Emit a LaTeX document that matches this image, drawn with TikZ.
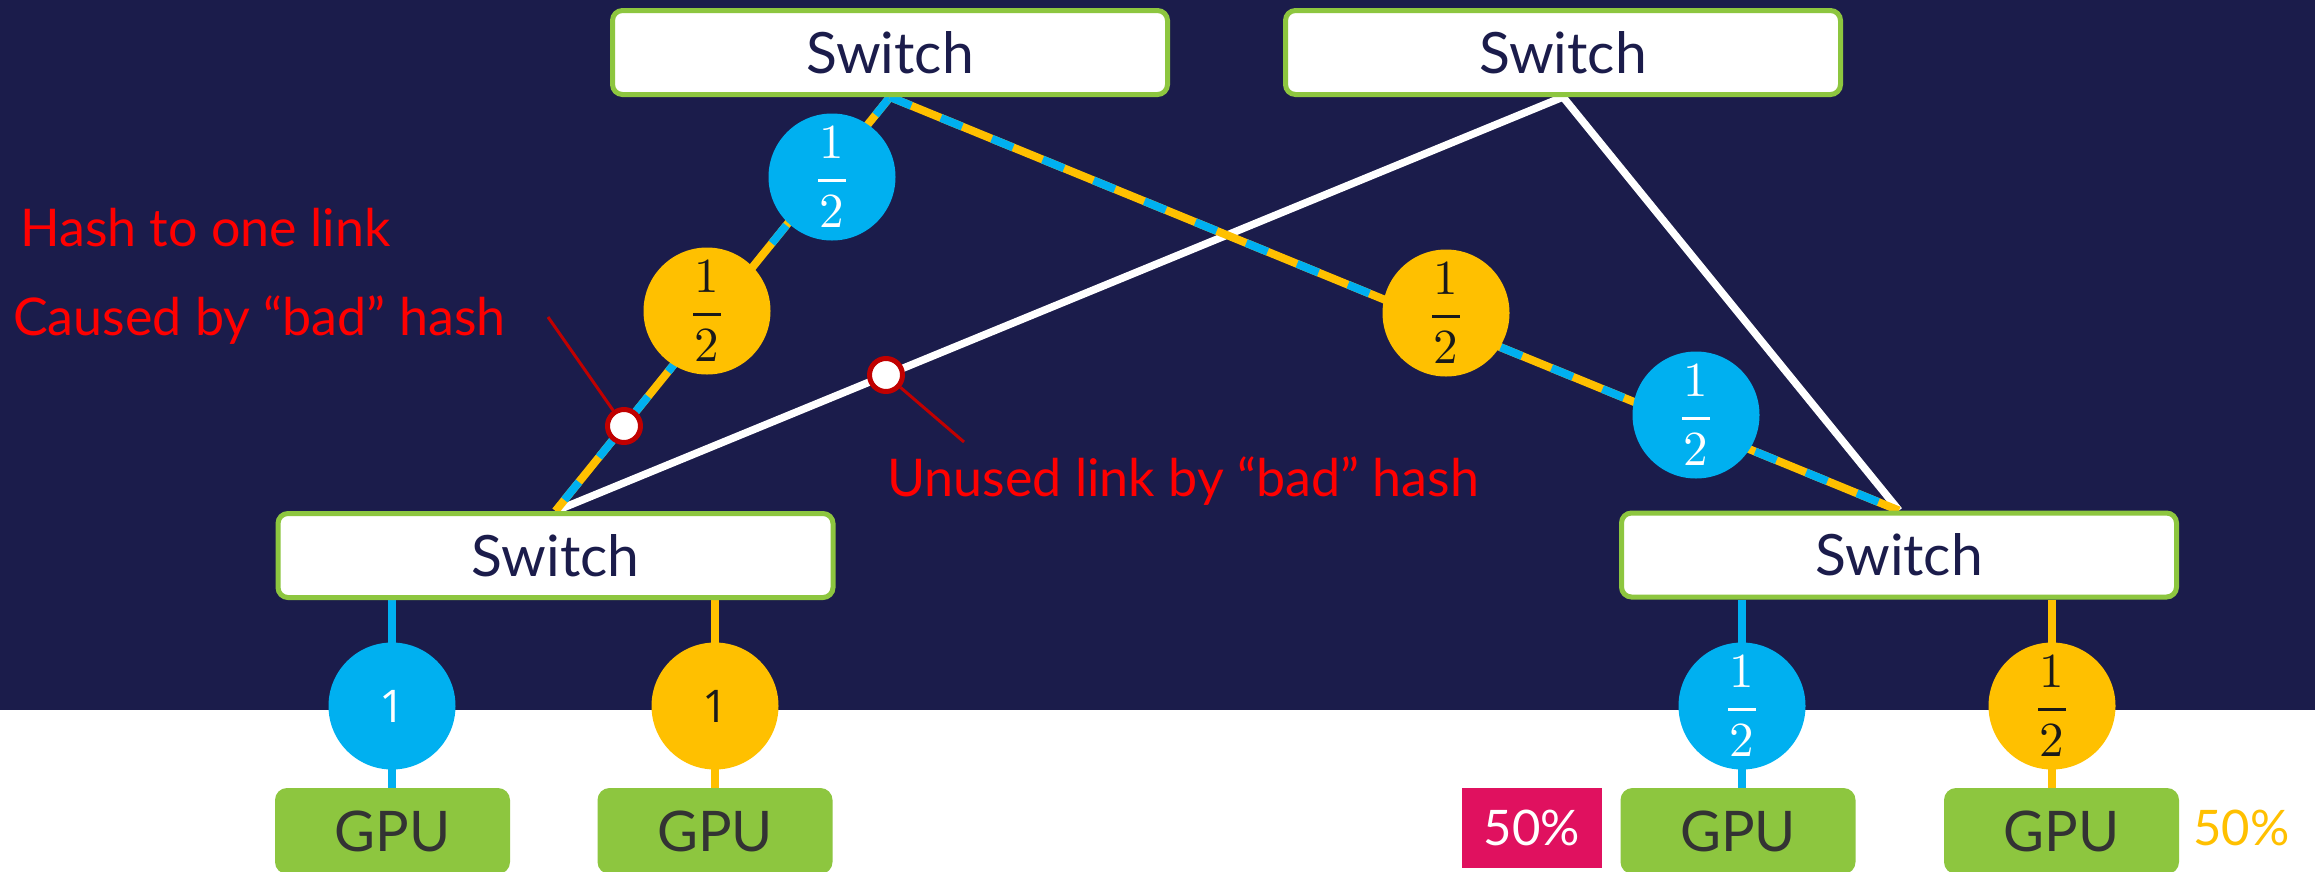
\documentclass[tikz,border=0pt]{standalone}
\usepackage{fontspec}
\setmainfont{Lato}
\newfontfamily\onesfont{Open Sans}
\newfontfamily\lmfont[Extension=.otf]{lmroman10-regular}
\definecolor{bgnavy}{HTML}{1B1C4B}
\definecolor{linkblue}{HTML}{00B0F0}
\definecolor{linkyellow}{HTML}{FFC000}
\definecolor{swgreen}{HTML}{8DC63F}
\definecolor{gpugreen}{HTML}{8DC63F}
\definecolor{gputext}{HTML}{333333}
\definecolor{fracdark}{HTML}{1A1A1A}
\definecolor{mkred}{HTML}{C00000}
\definecolor{magbox}{HTML}{E0115F}
\newcommand{\halfstack}{\vbox{\lmfont\fontsize{49}{50}\selectfont\offinterlineskip
  \halign{\hfil##\hfil\cr 1\cr\noalign{\kern 20pt}\vrule width 28pt height 3.5pt depth 0pt\cr\noalign{\kern 13pt}2\cr}}}
\pgfdeclarelayer{bg}
\pgfsetlayers{bg,main}
\begin{document}
\begin{tikzpicture}[x=1pt,y=-1pt,
  switchbox/.style={draw=swgreen, line width=5pt, fill=white, rounded corners=10pt,
    minimum width=555pt, minimum height=84pt, inner sep=0pt, text=bgnavy,
    font=\fontsize{57}{60}\selectfont},
  gpubox/.style={fill=gpugreen, rounded corners=12pt, minimum width=235pt,
    minimum height=86pt, inner sep=0pt, text=gputext, font=\fontsize{56}{60}\selectfont},
  bluecirc/.style={circle, fill=linkblue, minimum size=127pt, inner sep=0pt, text=white},
  yelcirc/.style={circle, fill=linkyellow, minimum size=127pt, inner sep=0pt, text=fracdark},
  onefont/.style={font=\onesfont\fontsize{45}{50}\selectfont},
  whitelink/.style={draw=white, line width=7.5pt},
  yellink/.style={draw=linkyellow, line width=8pt},
  bluedash/.style={draw=linkblue, line width=8pt, dash pattern=on 23pt off 32pt},
  bluevert/.style={draw=linkblue, line width=8pt},
  yelvert/.style={draw=linkyellow, line width=8pt},
  marker/.style={circle, draw=mkred, line width=5pt, fill=white, minimum size=33pt, inner sep=0pt},
  pointer/.style={draw=mkred, line width=3pt},
  redtext/.style={text=red, font=\fontsize{52}{56}\selectfont, anchor=base west, inner sep=0pt},
]
\useasboundingbox (0,0) rectangle (2315,871);
\begin{pgfonlayer}{bg}
  \fill[white] (0,0) rectangle (2315,871);
  \fill[bgnavy] (0,0) rectangle (2315,710);
\end{pgfonlayer}

% switches
\node[switchbox] (swTL) at (890,52.5) {Switch};
\node[switchbox] (swTR) at (1563,52.5) {Switch};
\node[switchbox] (swBL) at (555.5,555.5) {Switch};
\node[switchbox] (swBR) at (1899,555) {Switch};

% GPUs
\node[gpubox] (gpu1) at (392.5,831) {GPU};
\node[gpubox] (gpu2) at (715,831) {GPU};
\node[gpubox] (gpu3) at (1738,831) {GPU};
\node[gpubox] (gpu4) at (2061.5,831) {GPU};

% load circles
\node[bluecirc, onefont] (c1b) at (392,706) {1};
\node[yelcirc, onefont] (c1y) at (715,706) {1};
\node[bluecirc] (c3b) at (1742,706) {\halfstack};
\node[yelcirc] (c3y) at (2052,706) {\halfstack};
\node[bluecirc] (lb) at (832,177) {\halfstack};
\node[yelcirc] (ly) at (707,311) {\halfstack};
\node[yelcirc] (ry) at (1446,313) {\halfstack};
\node[bluecirc] (rb) at (1696,415) {\halfstack};

% percentage labels
\node[fill=magbox, minimum width=140pt, minimum height=80pt, inner sep=0pt, text=white,
  font=\fontsize{49}{52}\selectfont] (pctL) at (1532,828) {50\%};
\node[inner sep=0pt, text=linkyellow, font=\fontsize{49}{52}\selectfont] (pctR) at (2241.5,827.5) {50\%};

% links
\begin{pgfonlayer}{bg}
  \draw[whitelink] (swTR.south) -- (swBL.north);
  \draw[whitelink] (swTR.south) -- (swBR.north);
  \draw[yellink] (swTL.south) -- (swBL.north);
  \draw[bluedash] (swTL.south) -- (swBL.north);
  \draw[yellink] (swTL.south) -- (swBR.north);
  \draw[bluedash] (swTL.south) -- (swBR.north);
  \draw[bluevert] (c1b |- swBL.south) -- (c1b |- gpu1.north);
  \draw[yelvert] (c1y |- swBL.south) -- (c1y |- gpu2.north);
  \draw[bluevert] (c3b |- swBR.south) -- (c3b |- gpu3.north);
  \draw[yelvert] (c3y |- swBR.south) -- (c3y |- gpu4.north);
\end{pgfonlayer}

% annotations
\coordinate (p1) at (548,317);
\coordinate (p2) at (964,442);
\node[marker] (m1) at (624,426) {};
\node[marker] (m2) at (886,375) {};
\draw[pointer] (p1) -- (m1);
\draw[pointer] (m2) -- (p2);

\node[redtext] (t1) at (20,246) {Hash to one link};
\node[redtext] (t2) at (13,335) {Caused by “bad” hash};
\node[redtext] (t3) at (887,496) {Unused link by “bad” hash};
\end{tikzpicture}
\end{document}
